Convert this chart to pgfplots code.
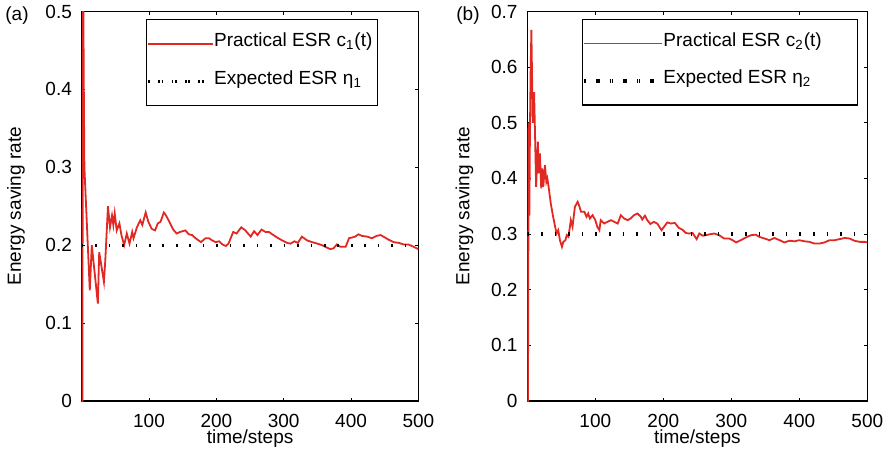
\documentclass[border=0pt]{standalone}
\usepackage{fontspec}
\setmainfont{Liberation Sans}
\usepackage{pgfplots}
\pgfplotsset{compat=1.18}
\definecolor{esrred}{RGB}{225,40,35}
\pgfplotsset{
  esr/.style={
    scale only axis, anchor=south west, height=194.75pt,
    xmin=0, xmax=500, ymin=0,
    xtick={100,200,300,400,500},
    axis line style={line width=0.6pt},
    every tick/.style={black, line width=0.5pt},
    major tick length=1.7pt,
    tick align=inside,
    /pgf/number format/assume math mode=true,
    every tick label/.append style={inner sep=0pt, text height={}, text depth={}},
    every axis label/.append style={inner sep=0pt, text height={}, text depth={}},
    yticklabel style={/pgf/number format/fixed, /pgf/number format/precision=1, xshift=-4.7pt},
    xticklabel style={yshift=-6.2pt},
    xlabel={time/steps}, ylabel={Energy saving rate},
    xlabel style={at={(axis description cs:0.5,-0.097)}, anchor=center},
    legend cell align=left,
    legend style={draw=black, line width=0.6pt, fill=white, inner xsep=0pt, inner ysep=2.55pt,
      row sep=0pt, column sep=0pt, nodes={inner sep=0pt, text height=10.85pt, text depth=7.95pt}},
  },
  curve/.style={color=esrred, line width=0.9pt, no markers},
}
\begin{document}
\fontsize{9.5}{11.4}\selectfont
\begin{tikzpicture}
\path[use as bounding box] (-40.85pt,-30.5pt) rectangle (403.65pt,200.5pt);
\node at (-32.35pt,192.75pt) {(a)};
\node at (193.15pt,192.75pt) {(b)};
\begin{axis}[esr, at={(0pt,0pt)}, width=168.35pt, ymax=0.5,
  ytick={0,0.1,0.2,0.3,0.4,0.5},
  ylabel style={at={(axis description cs:-0.195,0.5)}, anchor=center},
  legend style={at={(rel axis cs:0.881,0.980)}, anchor=north east},
  legend image code/.code={\path (0pt,0pt) -- (32.2pt,0pt); \draw[#1] (5pt,0pt) -- (29.7pt,0pt);},
]
\addplot[curve] coordinates {
(0,0) (1,0) (2,0.6) (3,0.42) (4,0.3) (12,0.142) (15,0.200) (24,0.125) (26,0.191)
(33,0.153) (35,0.180) (37,0.215) (39,0.250) (42,0.223) (45,0.238) (47,0.226)
(49,0.241) (52,0.219) (56,0.228) (59,0.213) (63,0.200) (67,0.215) (71,0.202)
(75,0.217) (77,0.209) (82,0.223) (87,0.232) (90,0.226) (95,0.242) (99,0.230)
(104,0.221) (109,0.219) (113,0.228) (117,0.230) (122,0.242) (124,0.240)
(129,0.232) (136,0.220) (141,0.215) (146,0.217) (154,0.219) (159,0.214)
(164,0.213) (169,0.209) (177,0.204) (184,0.209) (189,0.209) (194,0.206)
(199,0.204) (204,0.205) (209,0.201) (214,0.199) (218,0.202) (225,0.217)
(230,0.215) (237,0.223) (243,0.219) (251,0.211) (256,0.218) (261,0.213)
(267,0.220) (273,0.217) (278,0.217) (283,0.214) (290,0.210) (298,0.206)
(305,0.203) (310,0.202) (316,0.205) (321,0.203) (327,0.211) (335,0.206)
(342,0.204) (350,0.202) (357,0.200) (364,0.197) (369,0.195) (374,0.196)
(379,0.201) (384,0.198) (392,0.198) (397,0.209) (402,0.210) (406,0.211)
(411,0.214) (416,0.212) (424,0.211) (431,0.209) (438,0.212) (444,0.213)
(448,0.211) (456,0.207) (463,0.204) (471,0.203) (478,0.201) (485,0.201)
(493,0.198) (500,0.195)
};
\addlegendentry{\makebox[81.8pt][l]{Practical ESR c\textsubscript{1}(t)}}
\addplot[black, line width=1.6pt, dash pattern=on 0.8pt off 5.93pt] coordinates {(0,0.2) (500,0.2)};
\addlegendentry{\makebox[81.8pt][l]{Expected ESR η\textsubscript{1}}}
\end{axis}
\begin{axis}[esr, at={(222.8pt,0pt)}, width=170pt, ymax=0.7,
  ytick={0,0.1,0.2,0.3,0.4,0.5,0.6,0.7},
  ylabel style={at={(axis description cs:-0.185,0.5)}, anchor=center},
  legend style={at={(rel axis cs:0.9735,0.981)}, anchor=north east},
  legend image code/.code={\path (0pt,0pt) -- (38.7pt,0pt); \draw[#1] (5.8pt,0pt) -- (35.5pt,0pt);},
]
\addplot[curve] coordinates {
(0,0) (1,0) (2,0.5) (3,0.333) (4,0.5) (5,0.6) (6,0.667) (8,0.5) (10,0.555)
(11,0.5) (13,0.385) (15.5,0.466) (17,0.409) (18.5,0.445) (20.5,0.382) (22,0.418)
(23.5,0.385) (26,0.424) (28,0.394) (29.5,0.40) (32,0.379) (34.5,0.355) (38,0.331)
(41,0.313) (43,0.301) (45.5,0.307) (48,0.289) (51,0.277) (53,0.286) (56,0.289)
(58,0.298) (60.5,0.295) (64,0.325) (66.5,0.313) (70,0.349) (74,0.358) (76,0.352)
(79,0.340) (84,0.340) (87,0.331) (89.5,0.337) (92,0.328) (96,0.334) (100,0.325)
(103,0.313) (106,0.307) (108,0.325) (113,0.319) (118,0.322) (123,0.325)
(128,0.322) (133,0.319) (137.5,0.334) (142.5,0.328) (147.5,0.325) (152,0.328)
(157,0.334) (162,0.337) (167,0.331) (169,0.326) (173,0.333) (176.5,0.325)
(181,0.318) (186,0.322) (191,0.319) (197.5,0.307) (201,0.313) (206,0.321)
(211,0.319) (217,0.320) (223,0.311) (228,0.308) (233,0.302) (238,0.301)
(243,0.302) (249,0.291) (253,0.301) (258,0.297) (262.5,0.298) (270,0.300)
(275,0.301) (282,0.298) (289.5,0.292) (297,0.292) (302,0.289) (307,0.285)
(314,0.289) (321.5,0.294) (329,0.298) (336,0.299) (341,0.295) (349,0.292)
(356,0.289) (363.5,0.293) (371,0.289) (378,0.285) (385.5,0.288) (393,0.287)
(400,0.289) (407.5,0.287) (415,0.286) (422,0.283) (430,0.283) (437,0.285)
(444.5,0.289) (452,0.289) (459.5,0.291) (467,0.293) (474,0.292) (481,0.288)
(489,0.286) (496,0.286) (500,0.285)
};
\addlegendentry{\makebox[97.1pt][l]{Practical ESR c\textsubscript{2}(t)}}
\addplot[black, line width=1.6pt, dash pattern=on 0.8pt off 6.0pt] coordinates {(0,0.3) (500,0.3)};
\addlegendentry{\makebox[97.1pt][l]{Expected ESR η\textsubscript{2}}}
\end{axis}
\end{tikzpicture}
\end{document}
